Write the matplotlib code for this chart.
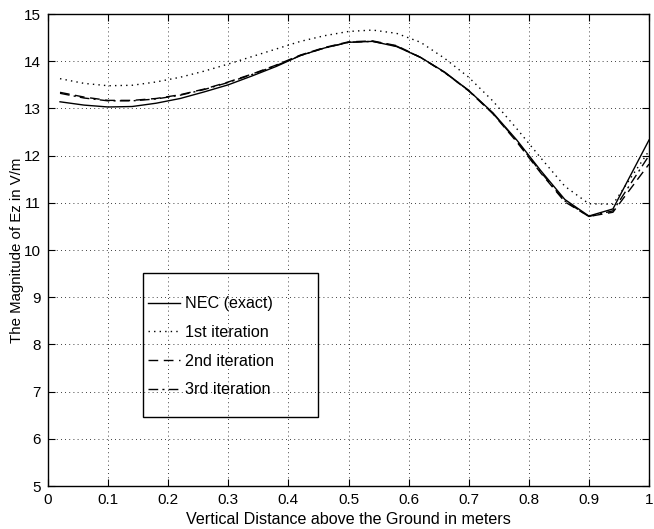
import matplotlib
matplotlib.use("Agg")
import matplotlib.pyplot as plt
from matplotlib.patches import Rectangle

plt.rcParams['font.family'] = ['Liberation Sans', 'DejaVu Sans']

x = [0.02, 0.06, 0.10, 0.14, 0.18, 0.22, 0.26, 0.30, 0.34, 0.38, 0.42, 0.46,
     0.50, 0.54, 0.58, 0.62, 0.66, 0.70, 0.74, 0.78, 0.82, 0.86, 0.90, 0.94, 1.00]

nec = [13.14, 13.07, 13.03, 13.04, 13.11, 13.21, 13.35, 13.50, 13.69, 13.89, 14.12, 14.28,
       14.40, 14.42, 14.31, 14.08, 13.77, 13.38, 12.91, 12.33, 11.68, 11.07, 10.72, 10.87, 12.33]
iter1 = [13.63, 13.53, 13.48, 13.49, 13.56, 13.66, 13.79, 13.94, 14.10, 14.26, 14.42, 14.54,
         14.63, 14.66, 14.59, 14.40, 14.06, 13.66, 13.16, 12.57, 11.95, 11.35, 10.98, 10.97, 12.10]
iter2 = [13.34, 13.24, 13.17, 13.17, 13.21, 13.29, 13.41, 13.56, 13.73, 13.92, 14.13, 14.29,
         14.41, 14.43, 14.33, 14.08, 13.76, 13.37, 12.89, 12.29, 11.63, 11.02, 10.71, 10.80, 11.82]
iter3 = [13.32, 13.22, 13.16, 13.16, 13.20, 13.28, 13.40, 13.55, 13.72, 13.91, 14.12, 14.28,
         14.40, 14.42, 14.32, 14.08, 13.76, 13.38, 12.90, 12.31, 11.65, 11.04, 10.71, 10.83, 12.00]

labels = ['NEC (exact)', '1st iteration', '2nd iteration', '3rd iteration']
xticks = [0, 0.1, 0.2, 0.3, 0.4, 0.5, 0.6, 0.7, 0.8, 0.9, 1]
xticklabels = ['0', '0.1', '0.2', '0.3', '0.4', '0.5', '0.6', '0.7', '0.8', '0.9', '1']
yticks = [5, 6, 7, 8, 9, 10, 11, 12, 13, 14, 15]

fig = plt.figure(figsize=(6.54, 5.29), dpi=100)
ax = fig.add_axes([48/654, 1-486/529, 601/654, 472/529])

ax.plot(x, nec, color='black', lw=1.0, ls='-', label=labels[0])
ax.plot(x, iter1, color='black', lw=1.0, ls=(0, (1, 3)), label=labels[1])
ax.plot(x, iter2, color='black', lw=1.0, ls=(0, (7, 4)), label=labels[2])
ax.plot(x, iter3, color='black', lw=1.0, ls=(0, (7, 3, 1.5, 3)), label=labels[3])

ax.set_xlim(0, 1)
ax.set_ylim(5, 15)
ax.set_xticks(xticks)
ax.set_xticklabels(xticklabels)
ax.set_yticks(yticks)
ax.tick_params(direction='in', top=True, right=True, length=5, width=0.8,
               labelsize=11, colors='black', pad=5)
ax.grid(True, color='black', ls=(0, (1, 4)), lw=0.6)
for s in ax.spines.values():
    s.set_linewidth(1.0)

ax.set_xlabel('Vertical Distance above the Ground in meters', fontsize=11.6, labelpad=4)
ax.set_ylabel('The Magnitude of Ez in V/m', fontsize=10.8, labelpad=0)

leg = ax.legend(loc='upper left', bbox_to_anchor=(100/601, 0.402), frameon=False,
                borderpad=0, borderaxespad=0, handlelength=2.0, handletextpad=0.3,
                labelspacing=0.85, fontsize=11.6)
ax.add_patch(Rectangle((95/601, 0.1462), 175/601, 0.305, transform=ax.transAxes,
                       fill=False, edgecolor='black', lw=1.0, zorder=5))

fig.savefig('out.png', dpi=100)
